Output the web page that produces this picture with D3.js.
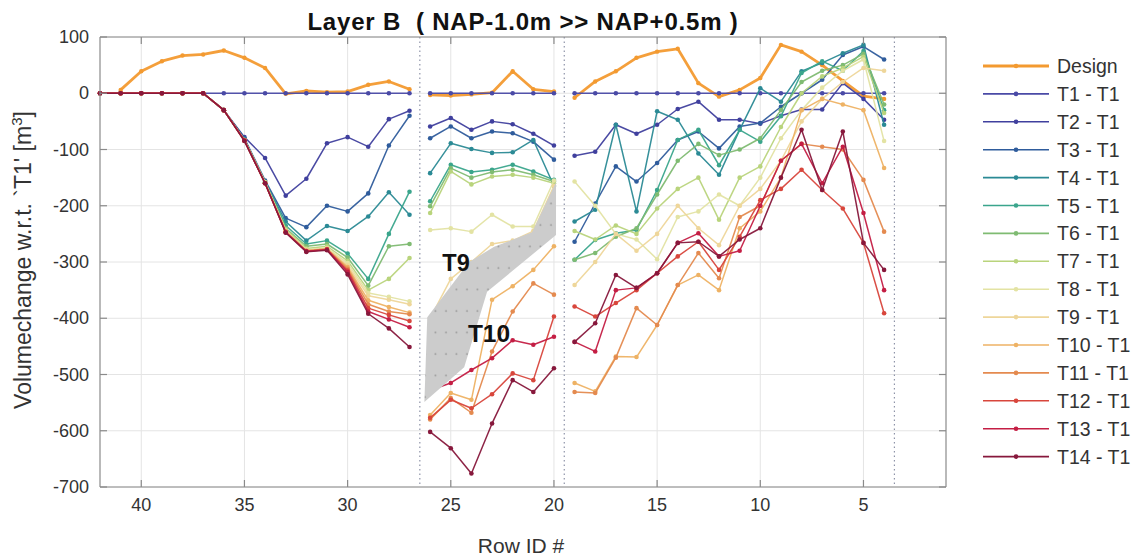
<!DOCTYPE html>
<html><head><meta charset="utf-8">
<script src="https://cdn.jsdelivr.net/npm/d3@7"></script>
<style>
body{margin:0;background:#fff;}
text{font-family:"Liberation Sans",Arial,sans-serif;}
</style></head>
<body><svg id="c" width="1139" height="560"></svg>
<script>
// ---- data ----
const leftRows  = [42,41,40,39,38,37,36,35,34,33,32,31,30,29,28,27];
const midRows   = [26,25,24,23,22,21,20];
const rightRows = [19,18,17,16,15,14,13,12,11,10,9,8,7,6,5,4];
const separators = [26.5, 19.5, 3.5];
const xTicks = [40,35,30,25,20,15,10,5];
const yTicks = [100,0,-100,-200,-300,-400,-500,-600,-700];
const seriesNames = ["Design","T1 - T1","T2 - T1","T3 - T1","T4 - T1","T5 - T1","T6 - T1","T7 - T1","T8 - T1","T9 - T1","T10 - T1","T11 - T1","T12 - T1","T13 - T1","T14 - T1"];
const seriesColors = ["#f39a30","#4a4aa6","#40409e","#2f5c9c","#2b8a95","#3aa58c","#7fbb72","#b9d47c","#e3e3a3","#eed69a","#eeb264","#e48a4f","#d8463c","#c41e44","#87183c"];

const leftVals = [
 [null,6,39,57,67,69,76,63,45,-1,4,2,3,15,21,7],
 [0,0,0,0,0,0,0,0,0,0,0,0,0,0,0,0],
 [0,0,0,0,0,0,-30,-78,-115,-182,-152,-89,-78,-95,-46,-31],
 [0,0,0,0,0,0,-30,-80,-155,-222,-238,-200,-210,-178,-93,-40],
 [0,0,0,0,0,0,-30,-82,-158,-228,-262,-236,-245,-219,-176,-216],
 [0,0,0,0,0,0,-30,-83,-158,-235,-268,-262,-285,-330,-250,-175],
 [0,0,0,0,0,0,-30,-83,-158,-240,-272,-268,-292,-342,-272,-268],
 [0,0,0,0,0,0,-30,-83,-158,-242,-276,-272,-298,-350,-330,-293],
 [0,0,0,0,0,0,-30,-84,-159,-244,-278,-275,-302,-355,-362,-370],
 [0,0,0,0,0,0,-30,-84,-159,-245,-279,-276,-306,-360,-367,-375],
 [0,0,0,0,0,0,-30,-84,-160,-246,-280,-277,-309,-368,-380,-390],
 [0,0,0,0,0,0,-30,-84,-160,-246,-280,-277,-312,-375,-388,-393],
 [0,0,0,0,0,0,-30,-84,-160,-247,-281,-278,-315,-382,-394,-405],
 [0,0,0,0,0,0,-30,-84,-160,-247,-281,-278,-318,-388,-402,-416],
 [0,0,0,0,0,0,-30,-85,-160,-248,-282,-279,-322,-392,-418,-451]
];
const midVals = [
 [-3,-4,-2,1,39,7,3],
 [0,0,0,0,0,0,0],
 [-59,-44,-65,-50,-55,-72,-93],
 [-80,-59,-80,-68,-71,-86,-118],
 [-142,-89,-99,-106,-105,-83,-165],
 [-192,-127,-140,-136,-127,-139,-154],
 [-201,-133,-150,-140,-136,-145,-157],
 [-213,-139,-162,-148,-145,-150,-160],
 [-243,-240,-246,-216,-237,-237,-155],
 [-400,-330,-300,-268,-262,-245,-165],
 [-572,-533,-545,-367,-343,-314,-272],
 [-580,-542,-568,-459,-388,-338,-358],
 [-577,-545,-560,-535,-498,-510,-397],
 [-528,-515,-492,-471,-439,-447,-433],
 [-602,-631,-676,-587,-510,-531,-489]
];
const rightVals = [
 [-8,21,39,63,74,79,18,-6,6,27,86,74,50,22,-5,-10],
 [0,0,0,0,0,0,0,0,0,0,0,0,0,0,0,0],
 [-111,-104,-56,-72,-56,-28,-15,-47,-47,-54,-40,-29,-29,18,-10,-47],
 [-264,-196,-130,-157,-124,-83,-68,-98,-59,-53,-24,0,24,68,83,60],
 [-228,-207,-56,-210,-32,-47,-107,-145,-65,9,-15,39,54,71,86,-56],
 [-296,-261,-249,-243,-172,-83,-65,-128,-65,-86,-41,36,57,40,75,-30],
 [-296,-284,-255,-240,-180,-120,-90,-110,-100,-80,-30,20,40,50,70,-20],
 [-245,-260,-235,-250,-205,-170,-150,-225,-150,-130,-60,0,30,45,65,-35],
 [-157,-200,-250,-260,-295,-220,-210,-180,-200,-150,-80,-30,10,40,60,-85],
 [-341,-300,-250,-280,-250,-200,-240,-270,-200,-170,-120,-50,-10,20,45,40],
 [-515,-530,-468,-469,-412,-341,-323,-350,-240,-210,-150,-30,-10,-20,-30,-133],
 [-531,-533,-470,-382,-412,-341,-284,-329,-220,-200,-120,-90,-95,-100,-154,-246],
 [-379,-397,-373,-350,-320,-290,-264,-314,-255,-190,-170,-136,-172,-205,-266,-391],
 [-442,-459,-350,-346,-320,-266,-249,-290,-280,-200,-120,-90,-160,-95,-213,-350],
 [-442,-409,-323,-346,-320,-266,-264,-290,-260,-240,-150,-65,-172,-68,-266,-314]
];
// annotation polygon (in data units: row, value)
const polyRows = [26.28, 26.14, 24.11, 22.9, 21.06, 19.9, 19.9, 23.24, 24.35];
const polyVals = [-549, -398, -300, -273, -247, -158, -252, -353, -487];

// ---- drawing ----
const svg = d3.select("#c");
const W=1139,H=560;
svg.append("rect").attr("width",W).attr("height",H).attr("fill","#fff");
const L=100,R=946,T=37,B=487;
const x = d3.scaleLinear().domain([42,1]).range([L,R]);
const y = d3.scaleLinear().domain([-700,100]).range([B,T]);

// grid
const g = svg.append("g");
g.selectAll(".gx").data(xTicks).enter().append("line")
 .attr("x1",d=>x(d)).attr("x2",d=>x(d)).attr("y1",T).attr("y2",B)
 .attr("stroke","#e4e4e4").attr("stroke-width",1);
g.selectAll(".gy").data(yTicks).enter().append("line")
 .attr("y1",d=>y(d)).attr("y2",d=>y(d)).attr("x1",L).attr("x2",R)
 .attr("stroke","#e4e4e4").attr("stroke-width",1);

// separators
g.selectAll(".sep").data(separators).enter().append("line")
 .attr("x1",d=>x(d)).attr("x2",d=>x(d)).attr("y1",T).attr("y2",B)
 .attr("stroke","#8e93a8").attr("stroke-width",1.2).attr("stroke-dasharray","1.5,3");

// series
const allRows = [...leftRows, null, ...midRows, null, ...rightRows];
const series = seriesNames.map((n,i)=>{
  const vals = [...leftVals[i], null, ...midVals[i], null, ...rightVals[i]];
  return {name:n,color:seriesColors[i],pts:allRows.map((r,j)=>({r:r,v:vals[j]}))};
});
const line = d3.line().defined(d=>d.r!==null && d.v!==null).x(d=>x(d.r)).y(d=>y(d.v));
const sg = svg.append("g");
series.forEach((s,i)=>{
  const sw = i===0?2.8:1.5;
  sg.append("path").attr("d",line(s.pts)).attr("fill","none")
    .attr("stroke",s.color).attr("stroke-width",sw).attr("stroke-linejoin","round")
    .attr("opacity",0.95);
  sg.selectAll(null).data(s.pts.filter(d=>d.r!==null && d.v!==null)).enter().append("circle")
    .attr("cx",d=>x(d.r)).attr("cy",d=>y(d.v)).attr("r",i===0?2.2:2.3).attr("fill",s.color);
});

// axes box
const ax = svg.append("g").attr("stroke","#8a8a8a").attr("stroke-width",1.2);
ax.append("line").attr("x1",L).attr("x2",L).attr("y1",T).attr("y2",B);
ax.append("line").attr("x1",R).attr("x2",R).attr("y1",T).attr("y2",B);
ax.append("line").attr("x1",L).attr("x2",R).attr("y1",B).attr("y2",B);
ax.append("line").attr("x1",L).attr("x2",R).attr("y1",T).attr("y2",T);
xTicks.forEach(t=>{
  ax.append("line").attr("x1",x(t)).attr("x2",x(t)).attr("y1",B).attr("y2",B-7);
  ax.append("line").attr("x1",x(t)).attr("x2",x(t)).attr("y1",T).attr("y2",T+7);
});
yTicks.forEach(t=>{
  ax.append("line").attr("x1",L).attr("x2",L+7).attr("y1",y(t)).attr("y2",y(t));
  ax.append("line").attr("x1",R).attr("x2",R-7).attr("y1",y(t)).attr("y2",y(t));
});
// tick labels
svg.selectAll(".xt").data(xTicks).enter().append("text")
 .attr("x",d=>x(d)).attr("y",B+24).attr("text-anchor","middle")
 .attr("font-size",18).attr("fill","#333").text(d=>d);
svg.selectAll(".yt").data(yTicks).enter().append("text")
 .attr("x",L-11).attr("y",d=>y(d)+6).attr("text-anchor","end")
 .attr("font-size",18).attr("fill","#333").text(d=>d);

// labels
svg.append("text").attr("x",523).attr("y",30).attr("text-anchor","middle")
 .attr("font-size",24).attr("font-weight","bold").attr("fill","#111")
 .attr("letter-spacing",0.8)
 .attr("xml:space","preserve").text("Layer B  ( NAP-1.0m >> NAP+0.5m )");
svg.append("text").attr("x",521).attr("y",553).attr("text-anchor","middle")
 .attr("font-size",21).attr("fill","#333").text("Row ID #");
const yl = svg.append("text").attr("transform","translate(31,260) rotate(-90)")
 .attr("text-anchor","middle").attr("font-size",23).attr("fill","#333");
yl.append("tspan").text("Volumechange w.r.t. `T1' [m");
yl.append("tspan").attr("font-size",15).attr("dy",-9).text("3");
yl.append("tspan").attr("dy",9).text("]");

// annotation polygon
const defs = svg.append("defs");
const pat = defs.append("pattern").attr("id","dots").attr("patternUnits","userSpaceOnUse")
 .attr("width",10.5).attr("height",21.5);
pat.append("rect").attr("width",10.5).attr("height",21.5).attr("fill","#cccccc");
pat.append("circle").attr("cx",5).attr("cy",10).attr("r",0.9).attr("fill","#999");
const polyPts = polyRows.map((r,i)=>[x(r),y(polyVals[i])]);
svg.append("path").attr("d",d3.line()(polyPts)+"Z").attr("fill","url(#dots)");
svg.append("text").attr("x",456).attr("y",271).attr("text-anchor","middle")
 .attr("font-family","DejaVu Sans").attr("font-weight","bold").attr("font-size",23.5)
 .attr("fill","#111").text("T9");
svg.append("text").attr("x",489).attr("y",342).attr("text-anchor","middle")
 .attr("font-family","DejaVu Sans").attr("font-weight","bold").attr("font-size",24.5)
 .attr("fill","#111").text("T10");

// legend
const lg = svg.append("g");
series.forEach((s,i)=>{
  const yy = 66 + i*27.9;
  lg.append("line").attr("x1",983).attr("x2",1049).attr("y1",yy).attr("y2",yy)
    .attr("stroke",s.color).attr("stroke-width",i===0?2.8:1.6);
  lg.append("circle").attr("cx",1016).attr("cy",yy).attr("r",2.3).attr("fill",s.color);
  lg.append("text").attr("x",1057).attr("y",yy+7).attr("font-size",19.5).attr("fill","#333").text(s.name);
});
</script></body></html>
